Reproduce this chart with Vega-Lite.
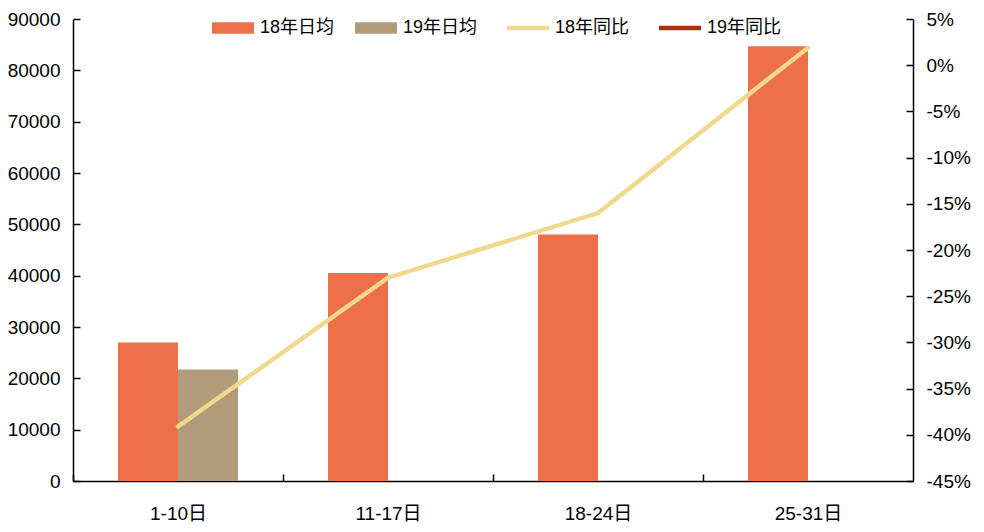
{
  "$schema": "https://vega.github.io/schema/vega-lite/v6.json",
  "width": 840,
  "height": 462,
  "autosize": {"type": "none"},
  "padding": {"left": 73, "top": 19, "right": 71, "bottom": 51},
  "background": "white",
  "config": {
    "view": {"stroke": null},
    "font": "Liberation Sans, Noto Sans CJK SC",
    "axis": {
      "domainColor": "#000000",
      "domainWidth": 1.5,
      "tickColor": "#000000",
      "tickWidth": 1.5,
      "grid": false,
      "title": null,
      "labelColor": "#000000",
      "labelFont": "Liberation Sans, Noto Sans CJK SC",
      "labelFontSize": 19
    }
  },
  "layer": [
    {
      "data": {
        "values": [
          {"cat": "1-10日", "series": "18年日均", "value": 27000},
          {"cat": "1-10日", "series": "19年日均", "value": 21700},
          {"cat": "11-17日", "series": "18年日均", "value": 40500},
          {"cat": "18-24日", "series": "18年日均", "value": 48000},
          {"cat": "25-31日", "series": "18年日均", "value": 84700}
        ]
      },
      "mark": {"type": "bar"},
      "encoding": {
        "x": {
          "field": "cat",
          "type": "nominal",
          "sort": ["1-10日", "11-17日", "18-24日", "25-31日"],
          "scale": {"domain": ["1-10日", "11-17日", "18-24日", "25-31日"], "paddingInner": 0.428571, "paddingOuter": 0.2142857},
          "axis": {
            "orient": "bottom",
            "labelAngle": 0,
            "tickOffset": -105,
            "labelOffset": 105,
            "tickSize": -7,
            "labelPadding": 30,
            "labelBaseline": "top"
          }
        },
        "xOffset": {
          "field": "series",
          "type": "nominal",
          "scale": {"domain": ["18年日均", "19年日均"], "paddingInner": 0, "paddingOuter": 0}
        },
        "y": {
          "field": "value",
          "type": "quantitative",
          "scale": {"domain": [0, 90000], "nice": false, "zero": true},
          "axis": {
            "orient": "left",
            "values": [0, 10000, 20000, 30000, 40000, 50000, 60000, 70000, 80000, 90000],
            "format": "d",
            "tickSize": -7,
            "labelPadding": 20
          }
        },
        "color": {
          "field": "series",
          "type": "nominal",
          "scale": {
            "domain": ["18年日均", "19年日均", "18年同比", "19年同比"],
            "range": ["#EE704B", "#B29B7B", "#F0D98C", "#A8320F"]
          },
          "legend": {
            "title": null,
            "orient": "none",
            "direction": "horizontal",
            "columns": 4,
            "legendX": 151,
            "legendY": 0,
            "symbolSize": 1764,
            "labelFontSize": 18,
            "labelFont": "Liberation Sans, Noto Sans CJK SC",
            "labelColor": "#000000",
            "labelOffset": 18,
            "columnPadding": 20,
            "encode": {
              "symbols": {
                "update": {
                  "shape": {"signal": "indexof(['18年同比','19年同比'], datum.value) >= 0 ? 'M-1,0H1' : 'M-1,-0.27H1V0.27H-1Z'"},
                  "size": {"value": 1764},
                  "fill": {"signal": "indexof(['18年同比','19年同比'], datum.value) >= 0 ? 'transparent' : scale('color', datum.value)"},
                  "stroke": {"signal": "indexof(['18年同比','19年同比'], datum.value) >= 0 ? scale('color', datum.value) : 'transparent'"},
                  "strokeWidth": {"signal": "indexof(['18年同比','19年同比'], datum.value) >= 0 ? 4.5 : 0"},
                  "opacity": {"value": 1}
                }
              }
            }
          }
        }
      }
    },
    {
      "data": {
        "values": [
          {"cat": "1-10日", "series": "18年同比", "pct": -39.1},
          {"cat": "11-17日", "series": "18年同比", "pct": -23.0},
          {"cat": "18-24日", "series": "18年同比", "pct": -16.0},
          {"cat": "25-31日", "series": "18年同比", "pct": 1.9}
        ]
      },
      "mark": {"type": "line", "strokeWidth": 4.5, "strokeCap": "round"},
      "encoding": {
        "x": {"field": "cat", "type": "nominal", "sort": ["1-10日", "11-17日", "18-24日", "25-31日"]},
        "y": {
          "field": "pct",
          "type": "quantitative",
          "scale": {"domain": [-45, 5], "nice": false, "zero": false},
          "axis": {
            "orient": "right",
            "values": [-45, -40, -35, -30, -25, -20, -15, -10, -5, 0, 5],
            "labelExpr": "datum.value + '%'",
            "tickSize": -7,
            "labelPadding": 20
          }
        },
        "color": {"field": "series", "type": "nominal"}
      }
    }
  ],
  "resolve": {"scale": {"y": "independent"}}
}
